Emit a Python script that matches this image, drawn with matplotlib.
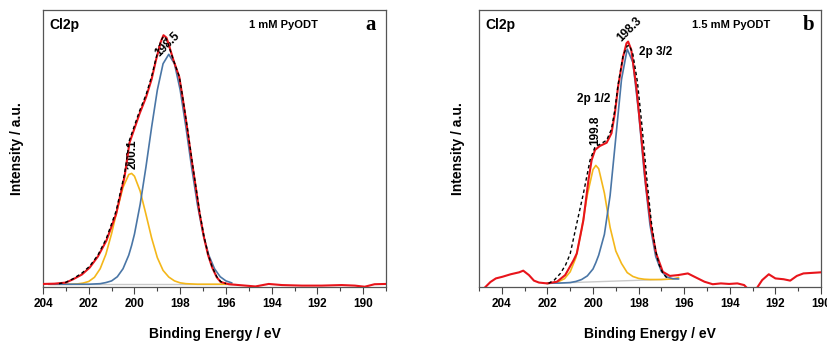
import matplotlib
matplotlib.use("Agg")
from matplotlib import pyplot as plt
from matplotlib.ticker import MultipleLocator

plt.rcParams['font.family'] = ['Liberation Sans', 'DejaVu Sans']
plt.rcParams['font.weight'] = 'bold'
plt.rcParams['axes.labelweight'] = 'bold'

# ---- panel a : 1 mM PyODT ----
# measured spectrum (red)
ea_raw = [204.0, 203.5, 203.0, 202.68, 202.3, 201.96, 201.6, 201.23, 200.8, 200.43,
          200.22, 199.78, 199.49, 199.25, 199.06, 198.85, 198.73, 198.6, 198.5, 198.3,
          198.04, 197.9, 197.68, 197.5, 197.32, 197.15, 196.96, 196.78, 196.6, 196.4,
          196.23, 195.87, 195.58, 194.71, 194.13, 193.55, 192.68, 191.81, 190.94, 190.36,
          189.93, 189.5, 189.0]
ia_raw = [0.011, 0.012, 0.016, 0.028, 0.045, 0.070, 0.110, 0.167, 0.264, 0.400,
          0.520, 0.625, 0.686, 0.750, 0.819, 0.885, 0.909, 0.900, 0.875, 0.820,
          0.758, 0.687, 0.565, 0.460, 0.360, 0.265, 0.179, 0.115, 0.070, 0.035,
          0.018, 0.010, 0.008, 0.002, 0.011, 0.007, 0.005, 0.005, 0.007, 0.005,
          0.001, 0.010, 0.011]
# envelope of the fit (black dashed)
ea_env = [203.3, 203.0, 202.68, 202.3, 201.96, 201.6, 201.23, 200.8, 200.43, 200.22,
          199.78, 199.49, 199.25, 199.06, 198.85, 198.73, 198.6, 198.5, 198.3, 198.04,
          197.9, 197.68, 197.5, 197.32, 197.15, 196.96, 196.78, 196.6, 196.4, 196.23, 196.0]
ia_env = [0.012, 0.017, 0.030, 0.050, 0.075, 0.115, 0.175, 0.275, 0.410, 0.530,
          0.635, 0.695, 0.760, 0.825, 0.888, 0.905, 0.895, 0.870, 0.820, 0.760,
          0.690, 0.570, 0.465, 0.365, 0.270, 0.183, 0.118, 0.072, 0.037, 0.020, 0.012]
# fitted components
ea_cmp = [203.75, 203.5, 203.25, 203.0, 202.75, 202.5, 202.25, 202.0, 201.75, 201.5,
          201.25, 201.0, 200.75, 200.5, 200.25, 200.125, 200.0, 199.75, 199.5, 199.25,
          199.0, 198.75, 198.5, 198.25, 198.0, 197.75, 197.5, 197.25, 197.0, 196.75,
          196.5, 196.25, 196.0, 195.75]
ia_blue = [0.010, 0.010, 0.010, 0.010, 0.010, 0.010, 0.010, 0.010, 0.011, 0.012,
           0.016, 0.022, 0.037, 0.066, 0.115, 0.150, 0.191, 0.299, 0.432, 0.577,
           0.711, 0.806, 0.840, 0.806, 0.711, 0.577, 0.432, 0.299, 0.191, 0.115,
           0.066, 0.037, 0.022, 0.015]
ia_yellow = [0.010, 0.010, 0.010, 0.010, 0.010, 0.011, 0.014, 0.020, 0.035, 0.066,
             0.118, 0.193, 0.281, 0.360, 0.406, 0.410, 0.400, 0.346, 0.263, 0.177,
             0.106, 0.060, 0.036, 0.022, 0.015, 0.012, 0.011, 0.010, 0.010, 0.010,
             0.010, 0.010, 0.010, 0.010]
ea_base = [203.7, 195.6]
ia_base = [0.010, 0.010]

# ---- panel b : 1.5 mM PyODT ----
eb_raw = [204.78, 204.5, 204.26, 203.97, 203.61, 203.24, 203.06, 202.81, 202.59, 202.37,
          202.01, 201.58, 201.22, 200.85, 200.71, 200.42, 200.2, 200.06, 199.91, 199.7,
          199.4, 199.19, 199.04, 198.9, 198.68, 198.53, 198.46, 198.32, 198.1, 197.88,
          197.67, 197.45, 197.23, 196.94, 196.63, 196.27, 195.84, 195.55, 195.11, 194.75,
          194.39, 194.03, 193.67, 193.37, 193.16, 193.0, 192.87, 192.58, 192.29, 192.0,
          191.64, 191.35, 191.06, 190.77, 190.19, 190.0]
ib_raw = [-0.005, 0.018, 0.031, 0.037, 0.046, 0.053, 0.059, 0.043, 0.023, 0.016,
          0.013, 0.019, 0.043, 0.097, 0.121, 0.242, 0.386, 0.458, 0.495, 0.509,
          0.521, 0.555, 0.627, 0.723, 0.831, 0.880, 0.886, 0.856, 0.723, 0.542,
          0.362, 0.218, 0.121, 0.055, 0.040, 0.043, 0.049, 0.037, 0.019, 0.010,
          0.013, 0.011, 0.013, 0.007, -0.011, -0.030, -0.011, 0.025, 0.046, 0.031,
          0.028, 0.023, 0.040, 0.049, 0.052, 0.053]
eb_env = [201.95, 201.7, 201.43, 201.2, 201.0, 200.71, 200.42, 200.13, 199.91, 199.7,
          199.4, 199.19, 199.04, 198.9, 198.68, 198.5, 198.4, 198.25, 198.05, 197.85,
          197.65, 197.45, 197.25, 197.1, 196.93, 196.71]
ib_env = [0.013, 0.025, 0.049, 0.080, 0.120, 0.230, 0.338, 0.458, 0.506, 0.515,
          0.530, 0.570, 0.640, 0.730, 0.835, 0.870, 0.872, 0.840, 0.740, 0.580,
          0.400, 0.240, 0.130, 0.080, 0.049, 0.028]
eb_cmp = [202.0, 201.75, 201.5, 201.25, 201.0, 200.75, 200.5, 200.25, 200.0, 199.875,
          199.75, 199.5, 199.25, 199.0, 198.75, 198.5, 198.25, 198.0, 197.75, 197.5,
          197.25, 197.0, 196.75, 196.5, 196.25]
ib_blue = [0.013, 0.014, 0.014, 0.015, 0.016, 0.020, 0.027, 0.040, 0.065, 0.088,
           0.115, 0.190, 0.330, 0.539, 0.749, 0.859, 0.811, 0.632, 0.409, 0.224,
           0.110, 0.056, 0.036, 0.030, 0.029]
ib_yellow = [0.013, 0.015, 0.020, 0.030, 0.055, 0.106, 0.207, 0.332, 0.424, 0.439,
             0.427, 0.339, 0.215, 0.130, 0.085, 0.052, 0.038, 0.031, 0.028, 0.027,
             0.027, 0.027, 0.028, 0.029, 0.034]
eb_base = [202.0, 196.3]
ib_base = [0.013, 0.029]

RED = '#e8141b'
BLUE = '#4a76a6'
YELLOW = '#f4b71a'
GREY = '#c9c9c9'

W, H = 828, 341
fig = plt.figure(figsize=(W / 100, H / 100), dpi=100)
ax_a = fig.add_axes([43 / W, (H - 287) / H, 343 / W, 277 / H])
ax_b = fig.add_axes([479 / W, (H - 287) / H, 342 / W, 277 / H])


def draw(ax, e_raw, i_raw, e_env, i_env, e_cmp, i_blue, i_yellow, e_base, i_base, xlim):
    ax.plot(e_base, i_base, color=GREY, lw=1.0, zorder=1)
    ax.plot(e_cmp, i_yellow, color=YELLOW, lw=1.2, zorder=2)
    ax.plot(e_cmp, i_blue, color=BLUE, lw=1.2, zorder=3)
    ax.plot(e_raw, i_raw, color=RED, lw=1.5, zorder=4)
    ax.plot(e_env, i_env, color='black', lw=1.0, ls=(0, (2.5, 2)), zorder=5)
    ax.set_xlim(*xlim)
    ax.set_ylim(0, 1)
    ax.xaxis.set_major_locator(MultipleLocator(2))
    ax.xaxis.set_minor_locator(MultipleLocator(1))
    ax.tick_params(axis='x', which='major', direction='out', length=5, width=0.8,
                   labelsize=8.5, pad=3, color='#444444')
    ax.tick_params(axis='x', which='minor', direction='out', length=3, width=0.8,
                   color='#444444')
    ax.set_yticks([])
    for s in ax.spines.values():
        s.set_color('#555555')
        s.set_linewidth(0.9)
    ax.set_xlabel('Binding Energy / eV', fontsize=10, labelpad=12)
    ax.set_ylabel('Intensity / a.u.', fontsize=10)


draw(ax_a, ea_raw, ia_raw, ea_env, ia_env, ea_cmp, ia_blue, ia_yellow, ea_base, ia_base, (204, 189))
draw(ax_b, eb_raw, ib_raw, eb_env, ib_env, eb_cmp, ib_blue, ib_yellow, eb_base, ib_base, (205, 190))
ax_a.yaxis.set_label_coords(-0.055, 0.5)
ax_b.yaxis.set_label_coords(-0.04, 0.5)

# labels panel a
ax_a.text(0.02, 0.945, 'Cl2p', transform=ax_a.transAxes, fontsize=10, va='center')
ax_a.text(0.70, 0.945, '1 mM PyODT', transform=ax_a.transAxes, fontsize=8, va='center', ha='center')
ax_a.text(0.955, 0.945, 'a', transform=ax_a.transAxes, fontsize=15, va='center', ha='center',
          family='Liberation Serif')
ax_a.text(198.57, 0.877, '198.5', rotation=45, fontsize=8.5, ha='center', va='center')
ax_a.text(200.07, 0.48, '200.1', rotation=90, fontsize=8.5, ha='center', va='center')

# labels panel b
ax_b.text(0.02, 0.945, 'Cl2p', transform=ax_b.transAxes, fontsize=10, va='center')
ax_b.text(0.738, 0.945, '1.5 mM PyODT', transform=ax_b.transAxes, fontsize=8, va='center', ha='center')
ax_b.text(0.965, 0.945, 'b', transform=ax_b.transAxes, fontsize=15, va='center', ha='center',
          family='Liberation Serif')
ax_b.text(198.39, 0.928, '198.3', rotation=45, fontsize=8.5, ha='center', va='center')
ax_b.text(197.98, 0.848, '2p 3/2', fontsize=8.5, ha='left', va='center')
ax_b.text(199.96, 0.678, '2p 1/2', fontsize=8.5, ha='center', va='center')
ax_b.text(199.9, 0.567, '199.8', rotation=90, fontsize=8.5, ha='center', va='center')

fig.savefig('out.png', dpi=100)
